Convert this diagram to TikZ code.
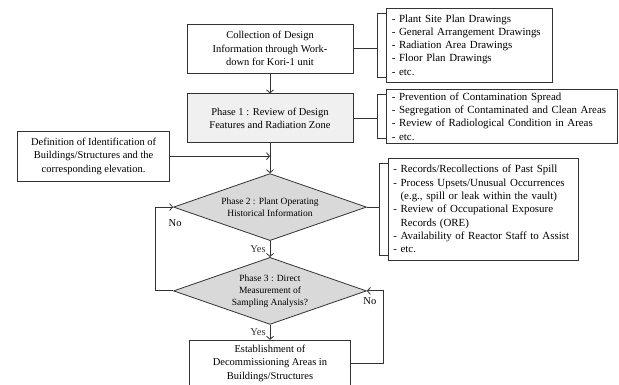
\documentclass[tikz,border=0pt]{standalone}
\usepackage{fontspec}
\setmainfont{Liberation Serif}
\usepackage{tikz}
\usetikzlibrary{arrows.meta, positioning, shapes.geometric}

\begin{document}
\begin{tikzpicture}[
    x=1pt, y=1pt,
    box/.style={draw=black!80, line width=0.8pt, rectangle, minimum width=166pt, minimum height=49pt, align=center, font=\fontsize{10.5}{13.3}\selectfont},
    decision/.style={draw=black!80, line width=0.8pt, diamond, aspect=2.88, minimum width=193pt, minimum height=67pt, inner sep=1pt, align=center, fill=black!15, font=\fontsize{9.5}{12}\selectfont},
    listbox/.style={draw=black!80, line width=0.8pt, rectangle, align=left, inner xsep=5pt, font=\fontsize{10.9}{13.3}\selectfont},
    arrow/.style={-{Straight Barb[length=3pt, width=7pt]}, line width=0.8pt, black!80},
    link/.style={line width=0.8pt, black!80},
    lbl/.style={font=\fontsize{10.5}{12}\selectfont, inner sep=1pt}
]
\useasboundingbox (0,0) rectangle (619,385);

% Main column
\node[box] (collect) at (270,336.5) {Collection of Design \\ Information through Work- \\ down for Kori-1 unit};
\node[box, fill=black!6, below=20pt of collect] (ph1) {Phase 1 : Review of Design \\ Features and Radiation Zone};
\node[decision, below=30pt of ph1] (ph2) {Phase 2 : Plant Operating \\ Historical Information};
\node[decision, below=16pt of ph2] (ph3) {Phase 3 : Direct \\ Measurement of \\ Sampling Analysis?};
\node[box, minimum width=161pt, minimum height=46pt, below=15pt of ph3] (final) {Establishment of \\ Decommissioning Areas in \\ Buildings/Structures};

% Input on the left
\coordinate[below=13pt of ph1] (merge);
\node[box, minimum width=152pt, minimum height=50pt, left=100pt of merge] (definition) {Definition of Identification of \\ Buildings/Structures and the \\ corresponding elevation.};

% Lists on the right
\node[listbox, text width=156pt, minimum height=74pt, right=33pt of collect, yshift=3.5pt] (list1) {
    - Plant Site Plan Drawings \\
    - General Arrangement Drawings \\
    - Radiation Area Drawings \\
    - Floor Plan Drawings \\
    - etc.
};
\node[listbox, text width=221pt, minimum height=53pt, right=33pt of ph1, yshift=2pt] (list2) {
    - Prevention of Contamination Spread \\
    - Segregation of Contaminated and Clean Areas \\
    - Review of Radiological Condition in Areas \\
    - etc.
};
\node[listbox, text width=180pt, minimum height=102pt, right=21pt of ph2, yshift=-2pt] (list3) {
    - Records/Recollections of Past Spill \\
    - Process Upsets/Unusual Occurrences \\
    \phantom{- }(e.g., spill or leak within the vault) \\
    - Review of Occupational Exposure \\
    \phantom{- }Records (ORE) \\
    - Availability of Reactor Staff to Assist \\
    - etc.
};

% Arrows
\draw[arrow] (collect) -- (ph1);
\draw[arrow] (ph1) -- (ph2);
\draw[arrow] (definition) -- (merge);
\draw[arrow] (ph2) -- node[lbl, left, xshift=-3pt] {Yes} (ph3);
\draw[arrow] (ph3) -- node[lbl, left, xshift=-3pt] {Yes} (final);
\draw[arrow] (ph3.west) -- ++(-18,0) |- (ph2.west);
\draw[arrow] (final.east) -- ++(32,0) |- (ph3.east);
\node[lbl, below=11pt of ph2.west, xshift=2pt] {No};
\node[lbl, below=6pt of ph3.east, xshift=3pt] {No};

% Brackets
\foreach \src/\lst in {collect/list1, ph1/list2, ph2/list3} {
    \coordinate (b\lst) at ([xshift=-9pt]\lst.west);
    \draw[link] ([yshift=-6pt]\lst.north west) -- ([yshift=-6pt]\lst.north west -| b\lst) |- ([yshift=5pt]\lst.south west);
    \draw[link] (\src.east) -- (\src.east -| b\lst);
}

\end{tikzpicture}
\end{document}
